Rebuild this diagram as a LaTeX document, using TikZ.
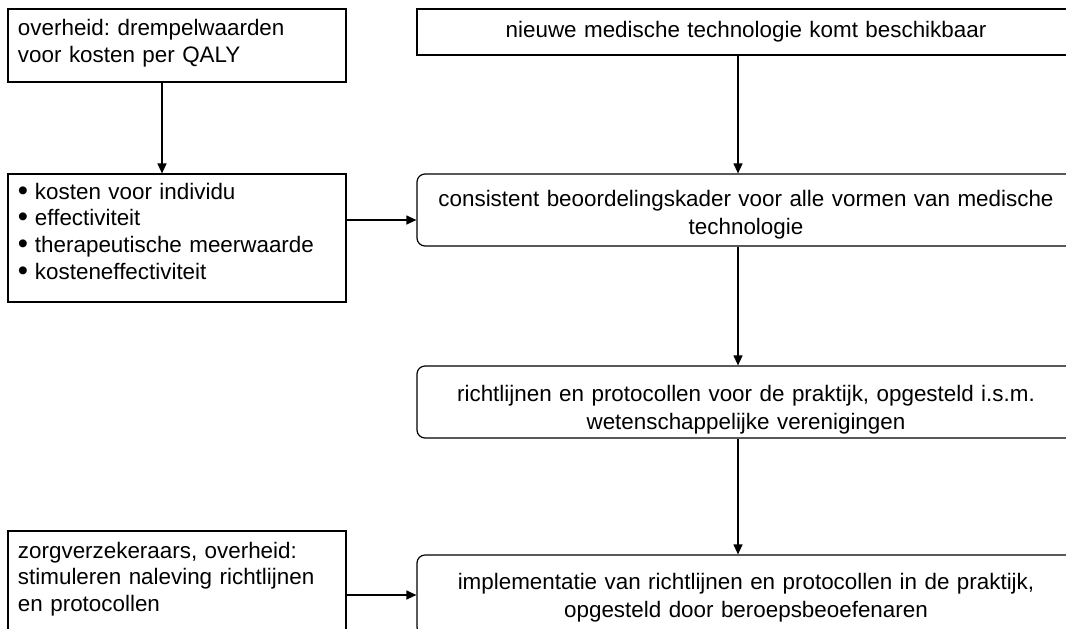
\documentclass[tikz,border=0pt]{standalone}
\usepackage{fontspec}
\usepackage{graphicx}
\setmainfont{Liberation Sans}
\frenchspacing
\usetikzlibrary{arrows,arrows.meta,calc}

\tikzset{
	blok/.style={draw,line width=0.6pt,inner xsep=5pt,inner ysep=0pt,minimum width=169pt,text width=159pt,align=left,font=\fontsize{11.2}{13.3}\selectfont},
	rblok/.style={draw,line width=0.6pt,inner sep=0pt,minimum width=329pt,text width=329pt,align=center,font=\fontsize{11.2}{13.8}\selectfont},
	pijl/.style={line width=0.6pt,-{Triangle[length=5pt,width=4.5pt]}}
}
\newcommand{\bol}{\makebox[8.5pt][l]{\raisebox{-0.5pt}{\scalebox{1.3}{•}}}}
\newcommand{\hoog}[1]{\rule{0pt}{#1}}
\newcommand{\diep}[1]{\rule[-#1]{0pt}{#1}}

\begin{document}
\begin{tikzpicture}[x=0.5pt,y=-0.5pt]
	\useasboundingbox (0,0) rectangle (1066,628);
	\clip (0,0) rectangle (1066,628);
	\node[blok,minimum height=36.5pt] (drempel) at (177,45.5) {overheid: drempelwaarden\\voor kosten per QALY\diep{4.5pt}};
	\node[blok,minimum height=64pt] (criteria) at (177,238) {\bol kosten voor individu\\\bol effectiviteit\\\bol therapeutische meerwaarde\\\bol kosteneffectiviteit\diep{7pt}};
	\node[blok,minimum height=51pt] (verzekeraars) at (177,582) {zorgverzekeraars, overheid:\\stimuleren naleving richtlijnen\\en protocollen\diep{5.5pt}};
	\node[rblok,minimum height=23pt] (nieuw) at (746,32) {nieuwe medische technologie komt beschikbaar};
	\node[rblok,rounded corners=4pt,minimum height=36pt] (kader) at (746,210) {\hoog{13pt}consistent beoordelingskader voor alle vormen van medische\\technologie};
	\node[rblok,rounded corners=4pt,minimum height=36pt] (richtlijnen) at (746,402) {\hoog{16pt}richtlijnen en protocollen voor de praktijk, opgesteld i.s.m.\\wetenschappelijke verenigingen};
	\node[rblok,rounded corners=4pt,minimum height=40pt] (praktijk) at (746,595) {\hoog{11pt}implementatie van richtlijnen en protocollen in de praktijk,\\opgesteld door beroepsbeoefenaren};
	\coordinate (lx) at (162,0);
	\coordinate (rx) at (738,0);
	\coordinate (my) at (0,220);
	\draw[pijl] (drempel.south -| lx) -- (criteria.north -| lx);
	\draw[pijl] (criteria.east |- my) -- (kader.west |- my);
	\draw[pijl] (nieuw.south -| rx) -- (kader.north -| rx);
	\draw[pijl] (kader.south -| rx) -- (richtlijnen.north -| rx);
	\draw[pijl] (richtlijnen.south -| rx) -- (praktijk.north -| rx);
	\draw[pijl] (verzekeraars.east |- praktijk.west) -- (praktijk.west);
\end{tikzpicture}
\end{document}
